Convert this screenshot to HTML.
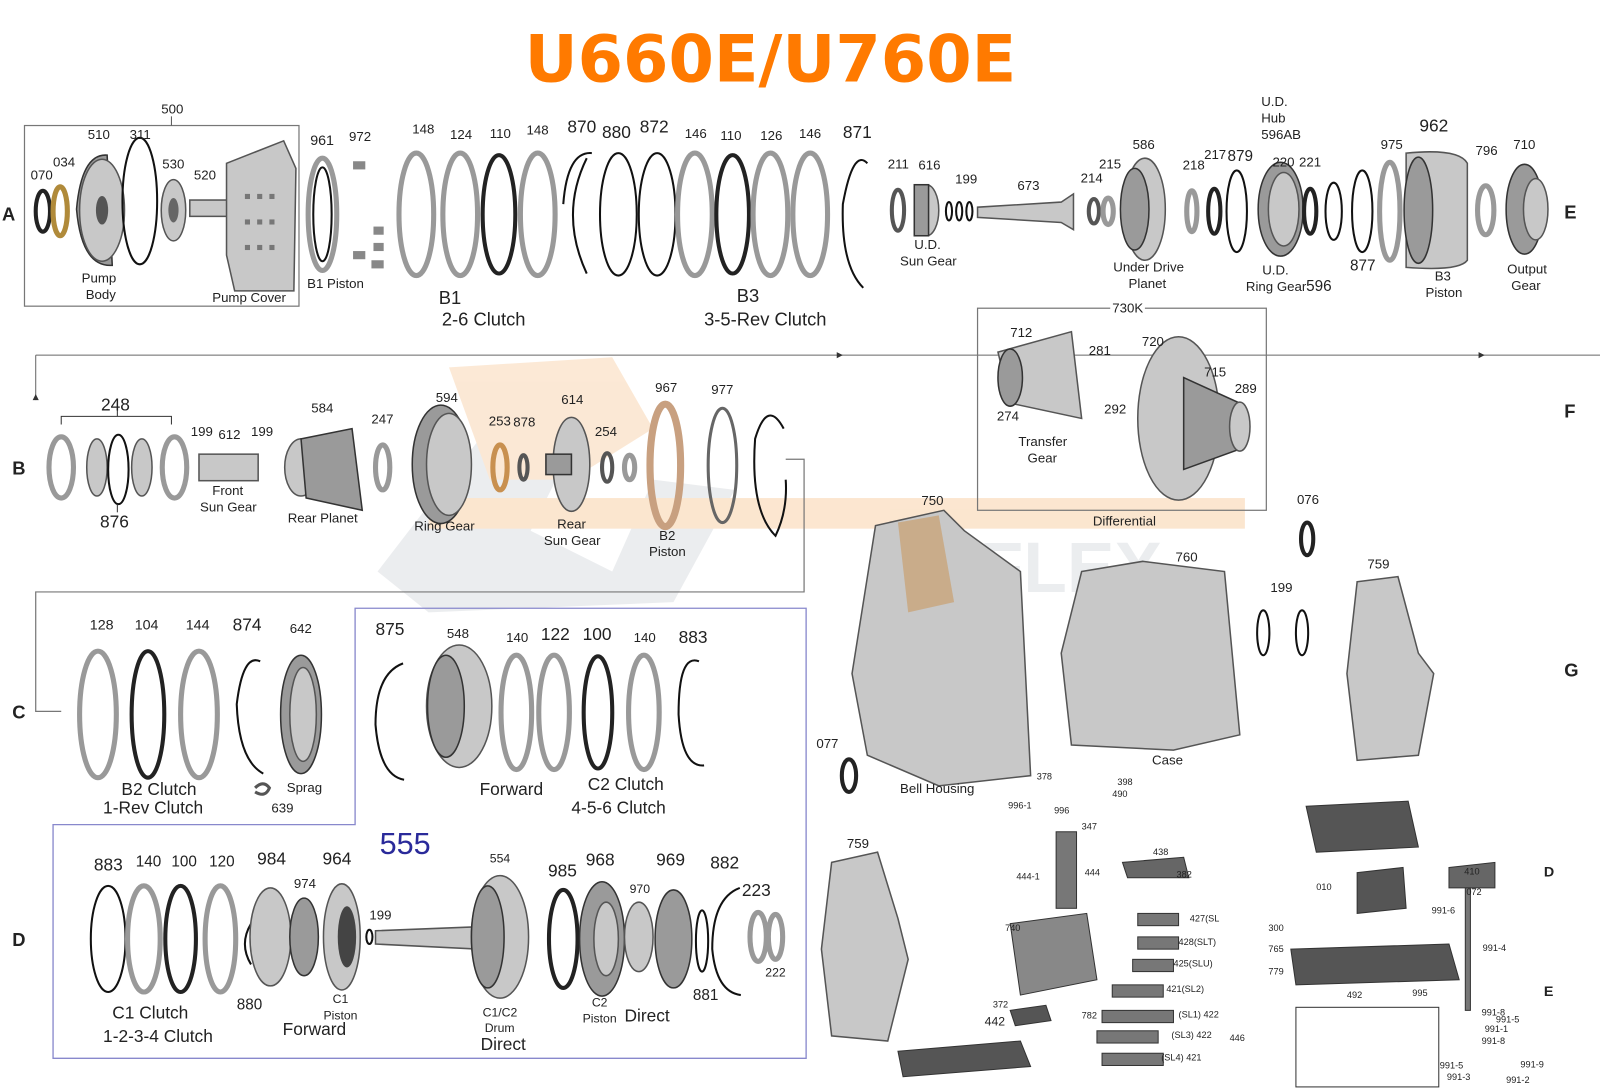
<!DOCTYPE html>
<html><head><meta charset="utf-8"><style>
html,body{margin:0;padding:0;background:#fff}
svg{display:block}
text{font-family:"Liberation Sans",sans-serif;fill:#222}
.s{font-size:13px}.m{font-size:17px}.l{font-size:18px}
.r{fill:none;stroke:#555;stroke-width:4}
.rl{fill:none;stroke:#999;stroke-width:5}
.rd{fill:none;stroke:#222;stroke-width:4}
.t{fill:none;stroke:#111;stroke-width:2}
.p{fill:#c8c8c8;stroke:#555;stroke-width:1.5}
.pd{fill:#9a9a9a;stroke:#333;stroke-width:1.5}
</style></head><body>
<svg width="1600" height="1091" viewBox="0 0 1568 1069" preserveAspectRatio="none" xmlns="http://www.w3.org/2000/svg">
<!-- watermark -->
<g opacity="0.35">
<path d="M370 560 L470 430 L560 440 L520 520 L600 560 L640 470 L720 480 L660 590 L420 600 Z" fill="#c8ccd2"/>
<path d="M440 360 L600 350 L640 420 L560 470 L480 470 Z" fill="#f6c08a"/>
<rect x="420" y="488" width="800" height="30" fill="#f5b878"/>
<text x="960" y="580" style="font-size:70px;font-weight:bold;fill:#c8ccd2">FLEX</text>
</g>
<!-- title -->
<text x="755" y="80" text-anchor="middle" style="font-family:'DejaVu Sans',sans-serif;font-size:64px;font-weight:bold;fill:#ff7a00">U660E/U760E</text>

<!-- boxes/lines -->
<rect x="24" y="123" width="269" height="177" fill="none" stroke="#777" stroke-width="1.2"/>
<line x1="168" y1="114" x2="168" y2="123" stroke="#555"/>
<line x1="35" y1="348" x2="1568" y2="348" stroke="#666" stroke-width="1"/>
<line x1="35" y1="348" x2="35" y2="392" stroke="#666"/>
<path d="M826 348 l-6 -3 v6z M1455 348 l-6 -3 v6z M35 386 l-3 6 h6z" fill="#333"/>
<rect x="958" y="302" width="283" height="198" fill="none" stroke="#777" stroke-width="1.2"/>
<polyline points="770,450 788,450 788,580 35,580 35,697 60,697" fill="none" stroke="#777" stroke-width="1.2"/>
<polygon points="348,596 790,596 790,1037 52,1037 52,808 348,808" fill="none" stroke="#8888cc" stroke-width="1.3"/>

<!-- Row letters -->
<g style="font-size:18px;font-weight:bold">
<text x="2" y="216">A</text><text x="1533" y="214">E</text><text x="12" y="465">B</text><text x="1533" y="409">F</text>
<text x="12" y="704">C</text><text x="1533" y="663">G</text><text x="12" y="927">D</text>
<text x="1513" y="859" style="font-size:14px">D</text><text x="1513" y="976" style="font-size:14px">E</text>
</g>

<!-- ROW A box contents -->
<ellipse cx="42" cy="207" rx="7" ry="20" class="rd"/>
<ellipse cx="59" cy="207" rx="7" ry="24" fill="none" stroke="#b08a3a" stroke-width="5"/>
<path d="M75 205 Q80 150 105 152 L110 260 Q80 262 75 205Z" class="pd"/>
<ellipse cx="100" cy="206" rx="22" ry="50" class="p"/>
<ellipse cx="100" cy="206" rx="6" ry="14" fill="#555"/>
<ellipse cx="137" cy="197" rx="17" ry="62" class="t"/>
<ellipse cx="170" cy="206" rx="12" ry="30" class="p"/>
<ellipse cx="170" cy="206" rx="5" ry="12" fill="#666"/>
<rect x="186" y="196" width="40" height="16" class="p"/>
<path d="M222 160 L278 138 L290 165 L288 285 L230 285 L222 250Z" class="p"/>
<g fill="#777"><rect x="240" y="190" width="5" height="5"/><rect x="252" y="190" width="5" height="5"/><rect x="264" y="190" width="5" height="5"/><rect x="240" y="215" width="5" height="5"/><rect x="252" y="215" width="5" height="5"/><rect x="264" y="215" width="5" height="5"/><rect x="240" y="240" width="5" height="5"/><rect x="252" y="240" width="5" height="5"/><rect x="264" y="240" width="5" height="5"/></g>
<g class="s"><text x="30" y="176">070</text><text x="52" y="163">034</text><text x="86" y="136">510</text><text x="127" y="136">311</text><text x="159" y="165">530</text><text x="190" y="176">520</text><text x="158" y="111">500</text>
<text x="80" y="277">Pump</text><text x="84" y="293">Body</text><text x="208" y="296">Pump Cover</text></g>

<!-- B1 piston -->
<ellipse cx="316" cy="210" rx="14" ry="55" class="rl"/>
<ellipse cx="316" cy="210" rx="9" ry="46" class="t"/>
<g fill="#888"><rect x="346" y="158" width="12" height="8"/><rect x="366" y="222" width="10" height="8"/><rect x="366" y="238" width="10" height="8"/><rect x="346" y="246" width="12" height="8"/><rect x="364" y="255" width="12" height="8"/></g>
<text x="304" y="142" class="s" style="font-size:14px">961</text><text x="342" y="138" class="s">972</text>
<text x="301" y="282" class="s">B1 Piston</text>

<!-- Row A rings -->
<ellipse cx="408" cy="210" rx="17" ry="60" class="rl"/>
<ellipse cx="451" cy="210" rx="17" ry="60" class="rl"/>
<ellipse cx="489" cy="210" rx="16" ry="58" class="rd"/>
<ellipse cx="527" cy="210" rx="17" ry="60" class="rl"/>
<path d="M575 155 Q548 210 575 268" class="t"/><path d="M580 150 Q556 148 552 200" class="t"/>
<ellipse cx="606" cy="210" rx="18" ry="60" class="t"/>
<ellipse cx="644" cy="210" rx="18" ry="60" class="t"/>
<ellipse cx="681" cy="210" rx="17" ry="60" class="rl"/>
<ellipse cx="718" cy="210" rx="16" ry="58" class="rd"/>
<ellipse cx="755" cy="210" rx="17" ry="60" class="rl"/>
<ellipse cx="794" cy="210" rx="17" ry="60" class="rl"/>
<path d="M850 160 Q836 145 826 200 Q824 260 846 282" class="t"/>
<g class="s"><text x="404" y="131">148</text><text x="441" y="136">124</text><text x="480" y="135">110</text><text x="516" y="132">148</text>
<text x="556" y="130" style="font-size:17px">870</text><text x="590" y="135" style="font-size:17px">880</text><text x="627" y="130" style="font-size:17px">872</text>
<text x="671" y="135">146</text><text x="706" y="137">110</text><text x="745" y="137">126</text><text x="783" y="135">146</text><text x="826" y="135" style="font-size:17px">871</text></g>
<text x="430" y="298" class="l">B1</text><text x="433" y="319" class="l">2-6 Clutch</text>
<text x="722" y="296" class="l">B3</text><text x="690" y="319" class="l">3-5-Rev Clutch</text>

<!-- Row A right -->
<ellipse cx="880" cy="206" rx="6" ry="20" class="r"/>
<ellipse cx="908" cy="206" rx="12" ry="25" class="p"/><rect x="896" y="181" width="14" height="50" class="pd"/>
<ellipse cx="930" cy="207" rx="3" ry="9" class="t"/><ellipse cx="940" cy="207" rx="3" ry="9" class="t"/><ellipse cx="950" cy="207" rx="3" ry="9" class="t"/>
<path d="M958 203 L1040 198 L1052 190 L1052 225 L1040 218 L958 213Z" class="p"/>
<ellipse cx="1072" cy="207" rx="5" ry="12" class="r"/><ellipse cx="1086" cy="207" rx="5" ry="13" class="rl"/>
<ellipse cx="1122" cy="205" rx="20" ry="50" class="p"/><ellipse cx="1112" cy="205" rx="14" ry="40" class="pd"/>
<ellipse cx="1168" cy="207" rx="5" ry="20" class="rl"/><ellipse cx="1190" cy="207" rx="6" ry="22" class="rd"/>
<ellipse cx="1212" cy="207" rx="10" ry="40" class="t"/>
<ellipse cx="1255" cy="205" rx="22" ry="46" class="pd"/><ellipse cx="1258" cy="205" rx="15" ry="36" class="p"/>
<ellipse cx="1284" cy="207" rx="6" ry="22" class="rd"/><ellipse cx="1307" cy="207" rx="8" ry="28" class="t"/>
<ellipse cx="1335" cy="207" rx="10" ry="40" class="t"/>
<ellipse cx="1362" cy="207" rx="10" ry="48" class="rl"/>
<path d="M1378 150 Q1430 145 1438 160 L1438 255 Q1430 266 1378 262 Z" class="p"/><ellipse cx="1390" cy="206" rx="14" ry="52" class="pd"/>
<ellipse cx="1456" cy="206" rx="8" ry="24" class="rl"/>
<ellipse cx="1494" cy="205" rx="18" ry="44" class="pd"/><ellipse cx="1505" cy="205" rx="12" ry="30" class="p"/>
<g class="s"><text x="870" y="165">211</text><text x="900" y="166">616</text><text x="936" y="180">199</text><text x="997" y="186">673</text><text x="1059" y="179">214</text><text x="1077" y="165">215</text><text x="1110" y="146">586</text>
<text x="1159" y="166">218</text><text x="1180" y="156">217</text><text x="1203" y="158" style="font-size:15px">879</text>
<text x="1236" y="104">U.D.</text><text x="1236" y="120">Hub</text><text x="1236" y="136">596AB</text>
<text x="1247" y="163">220</text><text x="1273" y="163">221</text><text x="1353" y="146">975</text><text x="1391" y="129" style="font-size:17px">962</text><text x="1446" y="152">796</text><text x="1483" y="146">710</text>
<text x="896" y="244">U.D.</text><text x="882" y="260">Sun Gear</text><text x="1091" y="266">Under Drive</text><text x="1106" y="282">Planet</text>
<text x="1237" y="269">U.D.</text><text x="1221" y="285">Ring Gear</text><text x="1280" y="285" style="font-size:15px">596</text>
<text x="1323" y="265" style="font-size:15px">877</text><text x="1406" y="275">B3</text><text x="1397" y="291">Piston</text><text x="1477" y="268">Output</text><text x="1481" y="284">Gear</text></g>

<!-- 730K -->
<rect x="1088" y="296" width="34" height="12" fill="#fff"/>
<text x="1090" y="306" class="s">730K</text>
<path d="M978 345 L1050 325 L1060 410 L990 395Z" class="p"/><ellipse cx="990" cy="370" rx="12" ry="28" class="pd"/>
<ellipse cx="1155" cy="410" rx="40" ry="80" class="p"/><path d="M1160 370 L1215 395 L1215 440 L1160 460Z" class="pd"/><ellipse cx="1215" cy="418" rx="10" ry="24" class="p"/>
<g class="s"><text x="990" y="330">712</text><text x="1067" y="348">281</text><text x="977" y="412">274</text><text x="998" y="437">Transfer</text><text x="1007" y="453">Gear</text>
<text x="1119" y="339">720</text><text x="1180" y="369">715</text><text x="1210" y="385">289</text><text x="1082" y="405">292</text><text x="1071" y="515">Differential</text></g>

<!-- Row B -->
<path d="M60 416 V408 H168 V416 M115 408 V400" fill="none" stroke="#333"/>
<ellipse cx="60" cy="458" rx="12" ry="30" class="rl"/><ellipse cx="95" cy="458" rx="10" ry="28" class="p"/>
<ellipse cx="116" cy="460" rx="10" ry="34" class="t"/><ellipse cx="139" cy="458" rx="10" ry="28" class="p"/><ellipse cx="171" cy="458" rx="12" ry="30" class="rl"/>
<line x1="115" y1="494" x2="115" y2="502" stroke="#333"/>
<rect x="195" y="445" width="58" height="26" class="p"/>
<ellipse cx="295" cy="458" rx="16" ry="28" class="p"/><path d="M295 430 L345 420 L355 500 L300 488Z" class="pd"/>
<ellipse cx="375" cy="458" rx="7" ry="22" class="rl"/>
<ellipse cx="432" cy="455" rx="28" ry="58" class="pd"/><ellipse cx="440" cy="455" rx="22" ry="50" class="p"/>
<ellipse cx="490" cy="458" rx="7" ry="22" fill="none" stroke="#c89050" stroke-width="5"/><ellipse cx="513" cy="458" rx="4" ry="12" class="r"/>
<ellipse cx="560" cy="455" rx="18" ry="46" class="p"/><rect x="535" y="445" width="25" height="20" class="pd"/>
<ellipse cx="595" cy="458" rx="5" ry="14" class="r"/><ellipse cx="617" cy="458" rx="5" ry="12" class="rl"/>
<ellipse cx="652" cy="456" rx="15" ry="60" fill="none" stroke="#c8a080" stroke-width="7"/>
<ellipse cx="708" cy="456" rx="14" ry="56" fill="none" stroke="#666" stroke-width="3"/>
<path d="M768 420 Q752 390 740 430 Q735 500 760 525 Q772 500 770 470" class="t"/>
<g class="s"><text x="99" y="402" style="font-size:17px">248</text><text x="98" y="517" style="font-size:17px">876</text>
<text x="187" y="427">199</text><text x="214" y="430">612</text><text x="246" y="427">199</text><text x="208" y="485">Front</text><text x="196" y="501">Sun Gear</text>
<text x="305" y="404">584</text><text x="282" y="512">Rear Planet</text><text x="364" y="415">247</text><text x="427" y="394">594</text><text x="406" y="520">Ring Gear</text>
<text x="479" y="417">253</text><text x="503" y="418">878</text><text x="550" y="396">614</text><text x="583" y="427">254</text><text x="546" y="518">Rear</text><text x="533" y="534">Sun Gear</text>
<text x="642" y="384">967</text><text x="646" y="529">B2</text><text x="636" y="545">Piston</text><text x="697" y="386">977</text></g>

<!-- Row C -->
<ellipse cx="96" cy="700" rx="18" ry="62" class="rl"/><ellipse cx="145" cy="700" rx="16" ry="62" class="rd"/><ellipse cx="195" cy="700" rx="18" ry="62" class="rl"/>
<path d="M255 648 Q238 640 232 690 Q234 745 258 758" class="t"/>
<ellipse cx="295" cy="700" rx="20" ry="58" class="pd"/><ellipse cx="297" cy="700" rx="13" ry="46" class="p"/>
<path d="M250 772 q8 -8 14 0 q-4 10 -14 4" fill="none" stroke="#555" stroke-width="3"/>
<g class="s"><text x="88" y="617" style="font-size:14px">128</text><text x="132" y="617" style="font-size:14px">104</text><text x="182" y="617" style="font-size:14px">144</text><text x="228" y="618" style="font-size:17px">874</text><text x="284" y="620">642</text>
<text x="281" y="776">Sprag</text><text x="266" y="796">639</text></g>
<text x="119" y="779" class="m">B2 Clutch</text><text x="101" y="797" class="m">1-Rev Clutch</text>
<path d="M395 650 Q368 660 368 710 Q372 760 396 764" class="t"/>
<ellipse cx="450" cy="692" rx="32" ry="60" class="p"/><ellipse cx="437" cy="692" rx="18" ry="50" class="pd"/>
<ellipse cx="506" cy="698" rx="15" ry="56" class="rl"/><ellipse cx="543" cy="698" rx="15" ry="56" class="rl"/><ellipse cx="586" cy="698" rx="14" ry="55" class="rd"/><ellipse cx="631" cy="698" rx="15" ry="56" class="rl"/>
<path d="M685 648 Q665 640 665 700 Q668 752 690 750" class="t"/>
<g class="s"><text x="368" y="622" style="font-size:17px">875</text><text x="438" y="625">548</text><text x="496" y="629">140</text><text x="530" y="627" style="font-size:17px">122</text><text x="571" y="627" style="font-size:17px">100</text><text x="621" y="629">140</text><text x="665" y="630" style="font-size:17px">883</text></g>
<text x="470" y="779" class="m">Forward</text><text x="576" y="774" class="m">C2 Clutch</text><text x="560" y="797" class="m">4-5-6 Clutch</text>
<text x="372" y="837" style="font-size:30px;fill:#2a2a9a">555</text>

<!-- Row D -->
<ellipse cx="106" cy="920" rx="17" ry="52" class="t"/><ellipse cx="141" cy="920" rx="16" ry="52" class="rl"/><ellipse cx="177" cy="920" rx="15" ry="52" class="rd"/><ellipse cx="216" cy="920" rx="15" ry="52" class="rl"/>
<path d="M246 905 Q234 925 246 945" class="t"/>
<ellipse cx="265" cy="918" rx="20" ry="48" class="p"/><ellipse cx="298" cy="918" rx="14" ry="38" class="pd"/>
<ellipse cx="335" cy="918" rx="18" ry="52" class="p"/><ellipse cx="340" cy="918" rx="9" ry="30" fill="#444"/>
<ellipse cx="362" cy="918" rx="3" ry="7" class="t"/>
<path d="M368 912 L470 908 L470 930 L368 925Z" class="p"/>
<ellipse cx="490" cy="918" rx="28" ry="60" class="p"/><ellipse cx="478" cy="918" rx="16" ry="50" class="pd"/>
<ellipse cx="552" cy="920" rx="14" ry="48" class="rd"/><ellipse cx="590" cy="920" rx="22" ry="56" class="pd"/><ellipse cx="594" cy="920" rx="12" ry="36" class="p"/>
<ellipse cx="626" cy="918" rx="14" ry="34" class="p"/><ellipse cx="660" cy="920" rx="18" ry="48" class="pd"/>
<ellipse cx="688" cy="922" rx="6" ry="30" class="t"/>
<path d="M725 870 Q698 880 698 930 Q702 972 726 975" class="t"/>
<ellipse cx="743" cy="918" rx="8" ry="24" class="rl"/><ellipse cx="760" cy="918" rx="7" ry="22" class="rl"/>
<g class="s" style="font-size:15px"><text x="92" y="853" style="font-size:17px">883</text><text x="133" y="849">140</text><text x="168" y="849">100</text><text x="205" y="849">120</text><text x="252" y="847" style="font-size:17px">984</text>
<text x="288" y="870" style="font-size:13px">974</text><text x="316" y="847" style="font-size:17px">964</text><text x="362" y="901" style="font-size:13px">199</text><text x="480" y="845" style="font-size:12px">554</text>
<text x="537" y="859" style="font-size:17px">985</text><text x="574" y="848" style="font-size:17px">968</text><text x="617" y="875" style="font-size:12px">970</text><text x="643" y="848" style="font-size:17px">969</text><text x="696" y="851" style="font-size:17px">882</text>
<text x="727" y="878" style="font-size:17px">223</text><text x="750" y="957" style="font-size:12px">222</text><text x="232" y="989">880</text><text x="679" y="980">881</text></g>
<g class="s" style="font-size:12px"><text x="326" y="983">C1</text><text x="317" y="999">Piston</text><text x="473" y="996">C1/C2</text><text x="475" y="1011">Drum</text><text x="580" y="986">C2</text><text x="571" y="1002">Piston</text></g>
<text x="110" y="998" class="m">C1 Clutch</text><text x="101" y="1021" class="m">1-2-3-4 Clutch</text><text x="277" y="1014" class="m">Forward</text><text x="471" y="1029" class="m">Direct</text><text x="612" y="1001" class="m">Direct</text>

<!-- Housings -->
<path d="M858 515 L925 500 L945 520 L1000 560 L1010 760 L920 770 L850 740 L835 660Z" class="p"/>
<path d="M880 512 L920 505 L935 590 L890 600Z" fill="#c9a57a" opacity="0.8"/>
<text x="903" y="495" class="s">750</text><text x="882" y="777" class="s">Bell Housing</text>
<path d="M1060 560 L1120 550 L1200 560 L1215 720 L1150 735 L1050 730 L1040 640Z" class="p"/>
<text x="1152" y="550" class="s">760</text><text x="1129" y="749" class="s">Case</text>
<ellipse cx="1281" cy="528" rx="6" ry="16" class="rd"/><text x="1271" y="494" class="s">076</text>
<ellipse cx="1238" cy="620" rx="6" ry="22" class="t"/><ellipse cx="1276" cy="620" rx="6" ry="22" class="t"/><text x="1245" y="580" class="s">199</text>
<path d="M1330 570 L1370 565 L1390 640 L1405 660 L1390 740 L1330 745 L1320 660Z" class="p"/><text x="1340" y="557" class="s">759</text>
<ellipse cx="832" cy="760" rx="7" ry="16" class="rd"/><text x="800" y="733" class="s">077</text>
<path d="M815 845 L860 835 L880 900 L890 940 L870 1020 L815 1015 L805 930Z" class="p"/><text x="830" y="831" class="s">759</text>

<!-- valve body & solenoids (bottom right) -->
<g fill="#777" stroke="#333" stroke-width="1">
<rect x="1035" y="815" width="20" height="75"/>
<path d="M990 905 L1065 895 L1075 960 L1000 975Z" fill="#888"/>
<rect x="1115" y="895" width="40" height="12"/><rect x="1115" y="918" width="40" height="12"/><rect x="1110" y="940" width="40" height="12"/><rect x="1090" y="965" width="50" height="12"/>
<rect x="1080" y="990" width="70" height="12"/><rect x="1075" y="1010" width="60" height="12"/><rect x="1080" y="1032" width="60" height="12"/>
<path d="M1280 790 L1380 785 L1390 830 L1290 835Z" fill="#555"/>
<path d="M1330 855 L1375 850 L1378 890 L1330 895Z" fill="#555"/>
<path d="M1265 930 L1420 925 L1430 960 L1270 965Z" fill="#555"/>
<path d="M1420 850 L1465 845 L1465 870 L1420 870Z" fill="#666"/>
<rect x="1436" y="870" width="5" height="120"/>
<path d="M880 1030 L1000 1020 L1010 1045 L885 1055Z" fill="#555"/>
<path d="M990 990 L1025 985 L1030 1000 L995 1005Z" fill="#555"/>
<path d="M1100 845 L1160 840 L1165 860 L1105 860Z" fill="#666"/>
</g>
<rect x="1270" y="987" width="140" height="78" fill="none" stroke="#333"/>
<g style="font-size:9px"><text x="1016" y="764">378</text><text x="988" y="792">996-1</text><text x="1033" y="797">996</text><text x="1095" y="769">398</text><text x="1090" y="781">490</text>
<text x="1060" y="813">347</text><text x="996" y="862">444-1</text><text x="1063" y="858">444</text><text x="1130" y="838">438</text><text x="1153" y="860">382</text><text x="985" y="912">740</text>
<text x="1166" y="903">427(SL</text><text x="1155" y="926">428(SLT)</text><text x="1150" y="947">425(SLU)</text><text x="1143" y="972">421(SL2)</text><text x="1155" y="997">(SL1) 422</text><text x="1148" y="1017">(SL3) 422</text><text x="1138" y="1039">(SL4) 421</text>
<text x="973" y="987">372</text><text x="965" y="1005" style="font-size:12px">442</text><text x="1060" y="998">782</text><text x="1205" y="1020">446</text>
<text x="1290" y="872">010</text><text x="1243" y="912">300</text><text x="1243" y="933">765</text><text x="1243" y="955">779</text><text x="1320" y="978">492</text><text x="1384" y="976">995</text>
<text x="1435" y="857">410</text><text x="1437" y="877">072</text><text x="1403" y="895">991-6</text><text x="1453" y="932">991-4</text><text x="1452" y="995">991-8</text><text x="1466" y="1002">991-5</text><text x="1455" y="1011">991-1</text><text x="1452" y="1023">991-8</text>
<text x="1411" y="1047">991-5</text><text x="1418" y="1058">991-3</text><text x="1476" y="1061">991-2</text><text x="1490" y="1046">991-9</text></g>
</svg>
</body></html>
